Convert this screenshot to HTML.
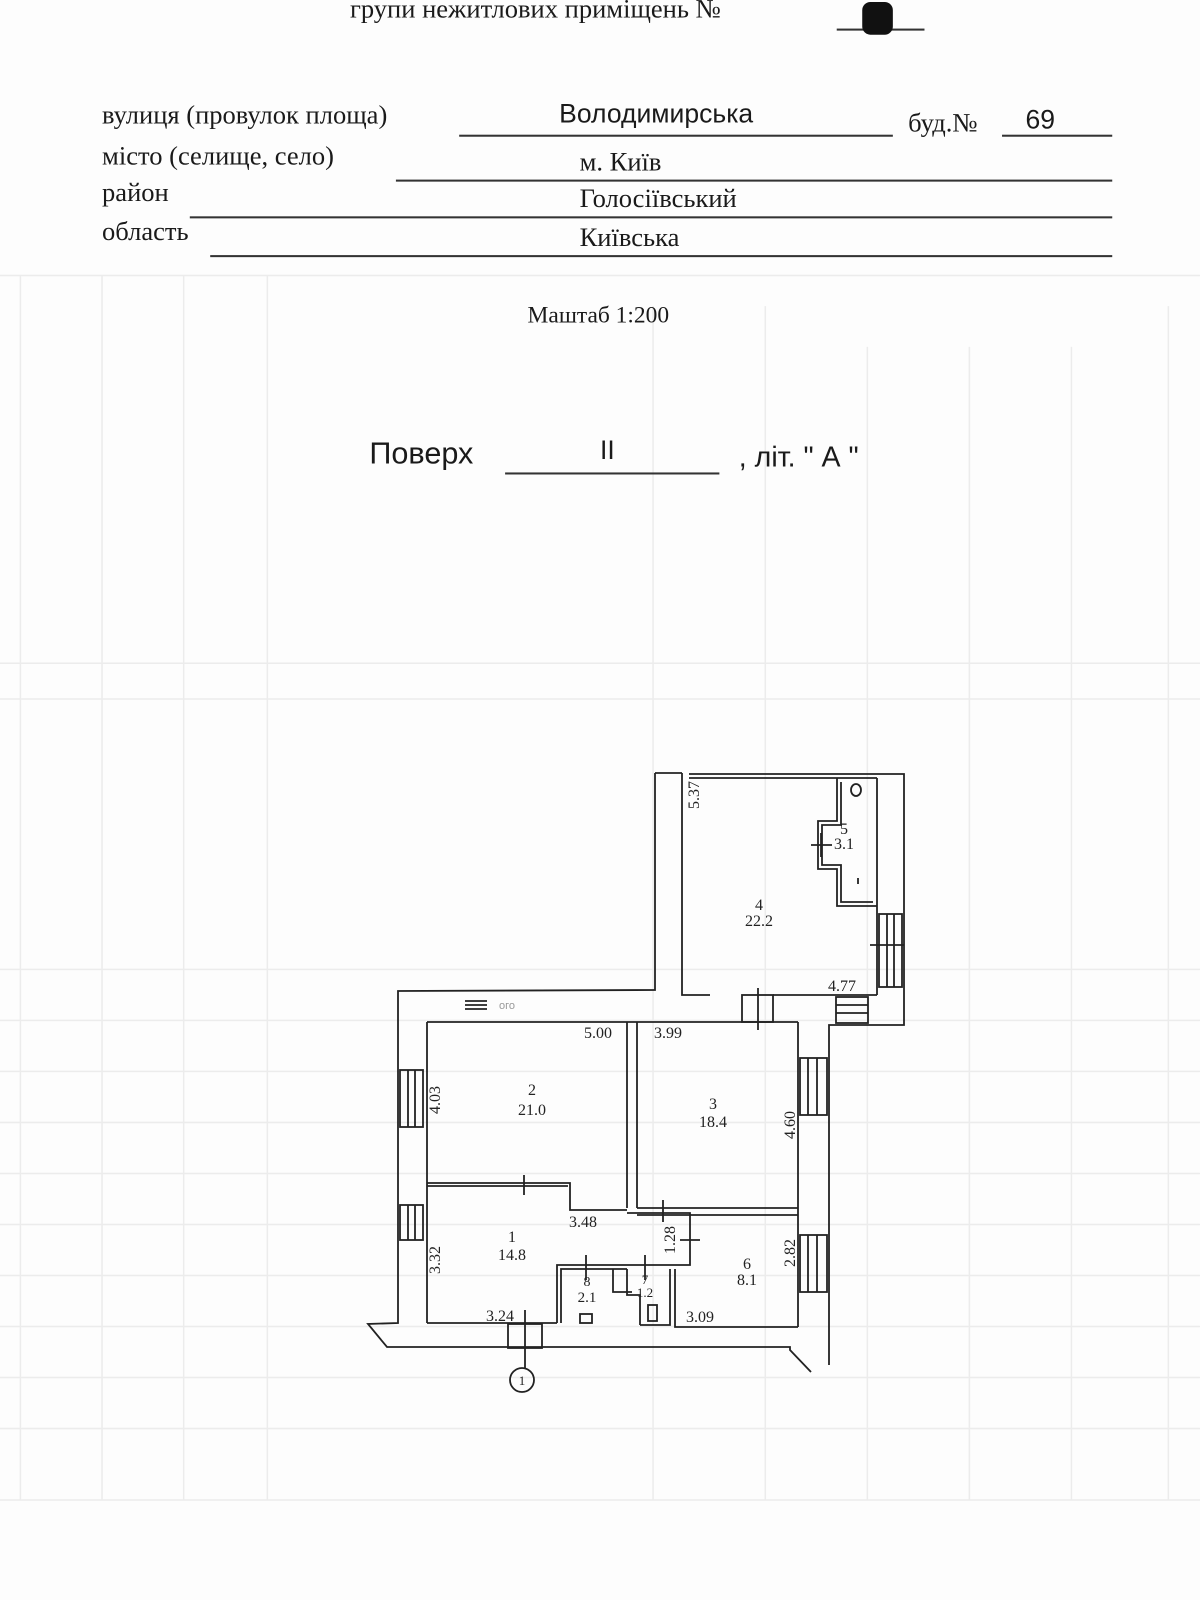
<!DOCTYPE html>
<html><head><meta charset="utf-8"><style>
body{margin:0;width:1200px;height:1600px;background:#fdfdfd;overflow:hidden;position:relative;font-family:"Liberation Serif",serif;}
#w{position:absolute;left:0;top:0;width:1176px;height:1568px;transform:scale(1.0204);transform-origin:0 0}
.t{position:absolute;color:#1a1a1a;white-space:nowrap}
.s{font-family:"Liberation Sans",sans-serif}
.ln{position:absolute;height:0;border-top:2px solid #333}
</style></head><body><div id="w">
<svg width="1176" height="1568" style="position:absolute;left:0;top:0">
<g stroke="#ececec" stroke-width="1.5" fill="none">
<line x1="0" y1="270" x2="1176" y2="270"/><line x1="0" y1="650" x2="1176" y2="650"/>
<line x1="0" y1="685" x2="1176" y2="685"/><line x1="0" y1="950" x2="1176" y2="950"/>
<line x1="0" y1="1000" x2="1176" y2="1000"/><line x1="0" y1="1050" x2="1176" y2="1050"/>
<line x1="0" y1="1100" x2="1176" y2="1100"/><line x1="0" y1="1150" x2="1176" y2="1150"/>
<line x1="0" y1="1200" x2="1176" y2="1200"/><line x1="0" y1="1250" x2="1176" y2="1250"/>
<line x1="0" y1="1300" x2="1176" y2="1300"/><line x1="0" y1="1350" x2="1176" y2="1350"/>
<line x1="0" y1="1400" x2="1176" y2="1400"/><line x1="0" y1="1470" x2="1176" y2="1470"/>
<line x1="20" y1="270" x2="20" y2="1470"/><line x1="100" y1="270" x2="100" y2="1470"/>
<line x1="180" y1="270" x2="180" y2="1470"/><line x1="262" y1="270" x2="262" y2="1470"/>
<line x1="640" y1="300" x2="640" y2="1470"/><line x1="750" y1="300" x2="750" y2="1470"/>
<line x1="850" y1="340" x2="850" y2="1470"/><line x1="950" y1="340" x2="950" y2="1470"/>
<line x1="1050" y1="340" x2="1050" y2="1470"/><line x1="1145" y1="300" x2="1145" y2="1470"/>
</g></svg>
<div class="t" style="left:343px;top:-6px;font-size:26px">групи нежитлових приміщень №</div>
<div class="ln" style="left:820px;top:28px;width:86px"></div>
<div style="position:absolute;left:845px;top:2px;width:30px;height:32px;background:#111;border-radius:8px"></div>
<div class="t" style="left:100px;top:98px;font-size:26px">вулиця (провулок площа)</div>
<div class="t s" style="left:548px;top:96px;font-size:26px">Володимирська</div>
<div class="t" style="left:890px;top:106px;font-size:26px">буд.№</div>
<div class="t s" style="left:1005px;top:102px;font-size:26px">69</div>
<div class="ln" style="left:450px;top:132px;width:425px"></div>
<div class="ln" style="left:982px;top:132px;width:108px"></div>
<div class="t" style="left:100px;top:138px;font-size:26px">місто (селище, село)</div>
<div class="t" style="left:568px;top:144px;font-size:26px">м. Київ</div>
<div class="ln" style="left:388px;top:176px;width:702px"></div>
<div class="t" style="left:100px;top:174px;font-size:26px">район</div>
<div class="t" style="left:568px;top:180px;font-size:26px">Голосіївський</div>
<div class="ln" style="left:186px;top:212px;width:904px"></div>
<div class="t" style="left:100px;top:212px;font-size:26px">область</div>
<div class="t" style="left:568px;top:218px;font-size:26px">Київська</div>
<div class="ln" style="left:206px;top:250px;width:884px"></div>
<div class="t" style="left:517px;top:296px;font-size:23px">Маштаб 1:200</div>
<div class="t s" style="left:362px;top:428px;font-size:30px">Поверх</div>
<div class="t s" style="left:588px;top:426px;font-size:26px">II</div>
<div class="ln" style="left:495px;top:463px;width:210px"></div>
<div class="t s" style="left:724px;top:432px;font-size:28px">, літ. " А "</div>
</div>
<svg width="1200" height="1600" style="position:absolute;left:0;top:0">
<g stroke="#222" stroke-width="1.8" fill="none">
<!-- outer -->
<polyline points="655,773 655,990 398,991 398,1323 368,1324 387,1347 790,1347 790,1350 811,1372"/>
<polyline points="655,773 682,773"/>
<polyline points="689,774 904,774 904,1025 829,1025 829,1365"/>
<line x1="689" y1="778" x2="877" y2="778"/>
<!-- room 4 -->
<polyline points="682,773 682,995 710,995"/>
<line x1="773" y1="995" x2="877" y2="995"/>
<line x1="877" y1="778" x2="877" y2="995"/>
<polyline points="837,778 837,821 818,821 818,869 837,869 837,906 877,906"/>
<polyline points="841,782 841,825 822,825 822,865 841,865 841,902 873,902"/>
<!-- main -->
<line x1="427" y1="1022" x2="798" y2="1022"/>
<line x1="427" y1="1022" x2="427" y2="1323"/>
<line x1="798" y1="1022" x2="798" y2="1327"/>
<line x1="627" y1="1022" x2="627" y2="1208"/><line x1="637" y1="1022" x2="637" y2="1208"/>
<polyline points="427,1183 570,1183 570,1210 627,1210"/>
<line x1="427" y1="1186" x2="568" y2="1186"/>
<polyline points="637,1208 798,1208"/>
<polyline points="627,1213 690,1213 690,1265 557,1265 557,1323"/>
<polyline points="637,1215 695,1215"/>
<line x1="427" y1="1323" x2="557" y2="1323"/>
<polyline points="561,1323 561,1269 627,1269"/>
<polyline points="627,1269 627,1295 640,1295 640,1325"/>
<polyline points="613,1269 613,1292 632,1292"/>
<polyline points="640,1325 670,1325 670,1269"/>
<polyline points="675,1269 675,1327 798,1327"/>
<line x1="695" y1="1215" x2="798" y2="1215"/>
<!-- windows -->
<rect x="400" y="1070" width="23" height="57"/><line x1="408" y1="1070" x2="408" y2="1127"/><line x1="415" y1="1070" x2="415" y2="1127"/>
<rect x="400" y="1205" width="23" height="35"/><line x1="408" y1="1205" x2="408" y2="1240"/><line x1="415" y1="1205" x2="415" y2="1240"/>
<rect x="800" y="1058" width="27" height="57"/><line x1="808" y1="1058" x2="808" y2="1115"/><line x1="817" y1="1058" x2="817" y2="1115"/>
<rect x="800" y="1235" width="27" height="57"/><line x1="808" y1="1235" x2="808" y2="1292"/><line x1="817" y1="1235" x2="817" y2="1292"/>
<rect x="879" y="914" width="23" height="73"/><line x1="887" y1="914" x2="887" y2="987"/><line x1="894" y1="914" x2="894" y2="987"/>
<rect x="836" y="997" width="32" height="26"/><line x1="836" y1="1005" x2="868" y2="1005"/><line x1="836" y1="1013" x2="868" y2="1013"/>
<line x1="465" y1="1001" x2="487" y2="1001"/><line x1="465" y1="1005" x2="487" y2="1005"/><line x1="465" y1="1009" x2="487" y2="1009"/>
<rect x="742" y="995" width="31" height="27"/>
<rect x="508" y="1324" width="34" height="24"/>
<line x1="758" y1="988" x2="758" y2="1030"/><line x1="870" y1="945" x2="904" y2="945"/>
<line x1="525" y1="1310" x2="525" y2="1368"/><line x1="524" y1="1175" x2="524" y2="1195"/>
<line x1="663" y1="1200" x2="663" y2="1222"/><line x1="680" y1="1240" x2="700" y2="1240"/>
<line x1="586" y1="1255" x2="586" y2="1280"/><line x1="645" y1="1255" x2="645" y2="1280"/>
<line x1="811" y1="845" x2="832" y2="845"/><line x1="821" y1="833" x2="821" y2="857"/>
<circle cx="522" cy="1380" r="12"/>
<rect x="580" y="1314" width="12" height="9"/><rect x="648" y="1305" width="9" height="16"/>
<ellipse cx="856" cy="790" rx="5" ry="6"/>
<line x1="858" y1="878" x2="858" y2="884"/>
</g>
<g font-family="Liberation Serif,serif" font-size="16" fill="#222" text-anchor="middle">
<text x="844" y="834">5</text><text x="844" y="849">3.1</text>
<text x="759" y="910">4</text><text x="759" y="926">22.2</text>
<text x="532" y="1095">2</text><text x="532" y="1115">21.0</text>
<text x="713" y="1109">3</text><text x="713" y="1127">18.4</text>
<text x="512" y="1242">1</text><text x="512" y="1260">14.8</text>
<text x="587" y="1286" font-size="14">8</text><text x="587" y="1302" font-size="15">2.1</text>
<text x="645" y="1284" font-size="13">7</text><text x="645" y="1297" font-size="13">1.2</text>
<text x="747" y="1269">6</text><text x="747" y="1285">8.1</text>
<text x="598" y="1038">5.00</text><text x="668" y="1038">3.99</text>
<text x="583" y="1227">3.48</text><text x="500" y="1321">3.24</text>
<text x="700" y="1322">3.09</text><text x="842" y="991">4.77</text>
<text x="522" y="1385" font-size="13">1</text>
<text transform="translate(699,795) rotate(-90)">5.37</text>
<text transform="translate(440,1100) rotate(-90)">4.03</text>
<text transform="translate(795,1125) rotate(-90)">4.60</text>
<text transform="translate(440,1260) rotate(-90)">3.32</text>
<text transform="translate(675,1240) rotate(-90)">1.28</text>
<text transform="translate(795,1253) rotate(-90)">2.82</text>
<text x="507" y="1009" font-size="11" fill="#999" font-family="Liberation Sans,sans-serif">ого</text>
</g>
</svg>
</body></html>
